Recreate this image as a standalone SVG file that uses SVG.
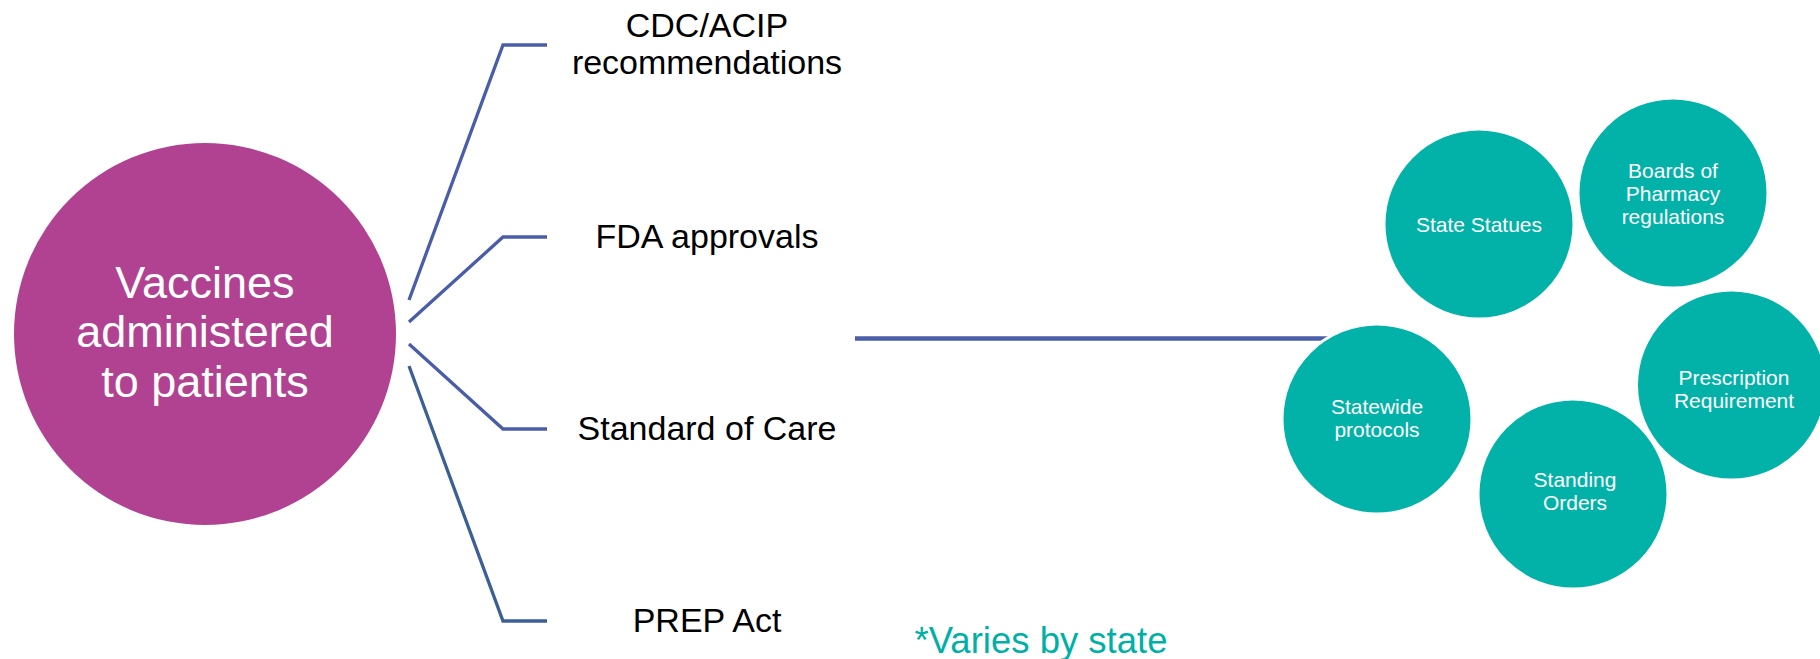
<svg xmlns="http://www.w3.org/2000/svg" width="1820" height="659" viewBox="0 0 1820 659">
<style>
.lbl{font-family:"Liberation Sans",Arial,sans-serif;font-size:34px;fill:#000;text-anchor:middle}
.hub{font-family:"Liberation Sans",Arial,sans-serif;font-size:45px;fill:#fff;text-anchor:middle}
.ct{font-family:"Liberation Sans",Arial,sans-serif;font-size:21px;fill:#fff;text-anchor:middle}
.teal{fill:#02B2A8;stroke:#fff;stroke-width:3}
.conn{fill:none;stroke:#4A5DA8;stroke-width:3.3;stroke-linejoin:miter}
</style>
<rect width="1820" height="659" fill="#fff"/>
<g id="connectors">
<polyline class="conn" points="409,300 503,45 547,45"/>
<polyline class="conn" points="409,322 503,237 547,237"/>
<polyline class="conn" points="409,344 503,429 547,429"/>
<polyline class="conn" points="409,366 503,621 547,621" style="stroke:#3C5F96"/>
<line x1="855" y1="338.5" x2="1330" y2="338.5" stroke="#4B5EAA" stroke-width="4.5"/>
</g>
<g id="hub">
<circle cx="205" cy="334" r="191" fill="#B14292"/>
<text class="hub" x="205" y="298">Vaccines</text>
<text class="hub" x="205" y="347">administered</text>
<text class="hub" x="205" y="397">to patients</text>
</g>
<g id="cdc"><text class="lbl" x="707" y="37">CDC/ACIP</text><text class="lbl" x="707" y="74">recommendations</text></g>
<g id="fda"><text class="lbl" x="707" y="248">FDA approvals</text></g>
<g id="soc"><text class="lbl" x="707" y="440">Standard of Care</text></g>
<g id="prep"><text class="lbl" x="707" y="632">PREP Act</text></g>
<g id="state-statues">
<circle class="teal" cx="1479" cy="224" r="95"/>
<text class="ct" x="1479" y="232">State Statues</text>
</g>
<g id="boards">
<circle class="teal" cx="1673" cy="193" r="95"/>
<text class="ct" x="1673" y="178">Boards of</text>
<text class="ct" x="1673" y="201">Pharmacy</text>
<text class="ct" x="1673" y="224">regulations</text>
</g>
<g id="statewide">
<circle class="teal" cx="1377" cy="419" r="95"/>
<text class="ct" x="1377" y="414">Statewide</text>
<text class="ct" x="1377" y="437">protocols</text>
</g>
<g id="standing">
<circle class="teal" cx="1573" cy="494" r="95"/>
<text class="ct" x="1575" y="487">Standing</text>
<text class="ct" x="1575" y="510">Orders</text>
</g>
<g id="prescription">
<circle class="teal" cx="1731.5" cy="385" r="95"/>
<text class="ct" x="1734" y="385">Prescription</text>
<text class="ct" x="1734" y="408">Requirement</text>
</g>
<g id="note">
<text x="1041" y="653" style="font-family:'Liberation Sans',Arial,sans-serif;font-size:36.5px;fill:#00B0A6;text-anchor:middle">*Varies by state</text>
</g>
</svg>
